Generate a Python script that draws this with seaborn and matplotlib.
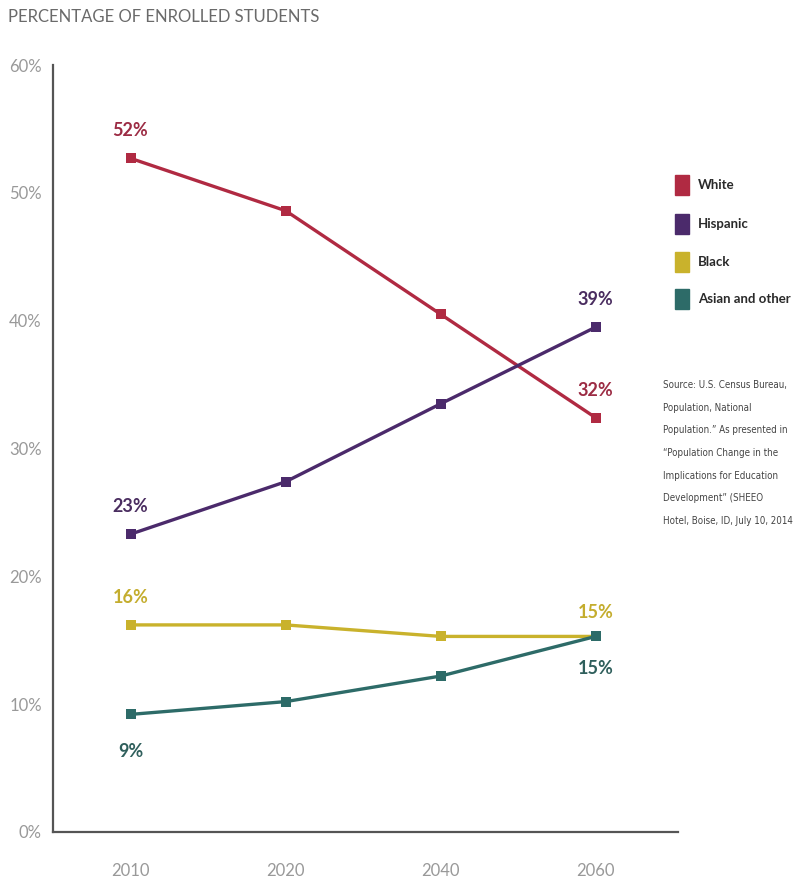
import matplotlib
matplotlib.use("Agg")
import matplotlib.pyplot as plt
import seaborn as sns
import pandas as pd
from matplotlib.patches import Rectangle

years = ["2010", "2020", "2040", "2060"]
white = [52.7, 48.6, 40.5, 32.4]
hispanic = [23.3, 27.4, 33.5, 39.5]
black = [16.2, 16.2, 15.3, 15.3]
asian = [9.2, 10.2, 12.2, 15.3]
groups = ["White", "Hispanic", "Black", "Asian and other"]
colors = ["#b02a42", "#4b2a6b", "#c9b22c", "#2d6b68"]
label_colors = ["#9c2c44", "#4a2d60", "#c4ad2e", "#2f5f5c"]
yticks = [0, 10, 20, 30, 40, 50, 60]
ytick_labels = ["0%", "10%", "20%", "30%", "40%", "50%", "60%"]
annotations = [
    ("White", 0, "52%", 20), ("White", 3, "32%", 20),
    ("Hispanic", 0, "23%", 20), ("Hispanic", 3, "39%", 20),
    ("Black", 0, "16%", 20), ("Black", 3, "15%", 17),
    ("Asian and other", 0, "9%", -27), ("Asian and other", 3, "15%", -23),
]
source_lines = [
    "Source: U.S. Census Bureau,",
    "Population, National",
    "Population.\u201d As presented in",
    "\u201cPopulation Change in the",
    "Implications for Education",
    "Development\u201d (SHEEO",
    "Hotel, Boise, ID, July 10, 2014",
]

series = {"White": white, "Hispanic": hispanic, "Black": black, "Asian and other": asian}
rows = []
for g in groups:
    for i, y in enumerate(years):
        rows.append({"year": y, "pos": i, "group": g, "value": series[g][i]})
df = pd.DataFrame(rows)

sns.set_theme(style="white")
plt.rcParams["font.family"] = ["Lato", "DejaVu Sans"]

fig = plt.figure(figsize=(7.97, 8.89), dpi=100)
ax = fig.add_axes([53 / 797, (889 - 832) / 889, (678 - 53) / 797, (832 - 65) / 889])

palette = dict(zip(groups, colors))
sns.lineplot(data=df, x="pos", y="value", hue="group", palette=palette, marker="s",
             markersize=7, markeredgewidth=0, linewidth=2.4, legend=False, ax=ax,
             hue_order=groups)

ax.set_xlim(-0.5, 3.53)
ax.set_ylim(0, 60)
ax.set_xticks(range(len(years)))
ax.set_xticklabels(years)
ax.set_yticks(yticks)
ax.set_yticklabels(ytick_labels)
ax.tick_params(axis="both", length=0, labelsize=12, labelcolor="#999999")
ax.tick_params(axis="x", pad=22)
ax.tick_params(axis="y", pad=8)
ax.set_xlabel("")
ax.set_ylabel("")
for s in ["top", "right"]:
    ax.spines[s].set_visible(False)
for s in ["left", "bottom"]:
    ax.spines[s].set_color("#555555")
    ax.spines[s].set_linewidth(1.6)

cmap = dict(zip(groups, label_colors))
for g, i, txt, off in annotations:
    v = series[g][i]
    ax.annotate(txt, (i, v), xytext=(0, off), textcoords="offset points",
                ha="center", va="center", fontsize=13, fontweight="bold",
                color=cmap[g])

fig.text(8 / 797, 1 - 17 / 889, "PERCENTAGE OF ENROLLED STUDENTS", fontsize=12,
         color="#6a6a6a", ha="left", va="center")

leg_y = [185, 224, 262, 299]
for g, c, y in zip(groups, colors, leg_y):
    fig.patches.append(Rectangle((675 / 797, 1 - (y + 10) / 889), 14 / 797, 20 / 889,
                                 transform=fig.transFigure, color=c, figure=fig))
    fig.text(698 / 797, 1 - y / 889, g, fontsize=9.5, fontweight="bold",
             color="#2a2a2a", ha="left", va="center")

for k, line in enumerate(source_lines):
    fig.text(663 / 797, 1 - (385 + k * 22.7) / 889, line, fontsize=7,
             color="#444444", ha="left", va="center",
             family=["DejaVu Sans"], fontstretch="condensed")

fig.savefig("out.png", dpi=100)
